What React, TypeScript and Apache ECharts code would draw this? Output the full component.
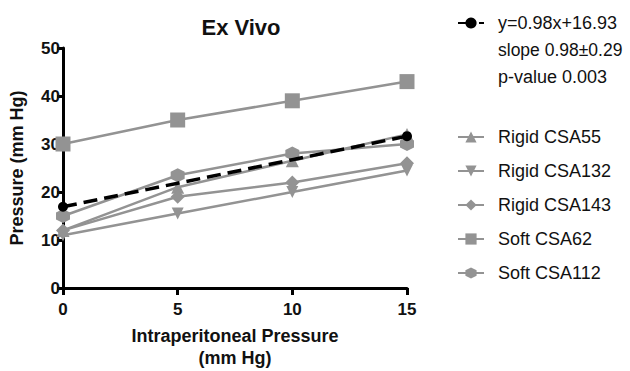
import React, { useEffect, useRef } from "react";
import * as echarts from "echarts";

const xValues = [0, 5, 10, 15];
const rigidCSA55 = [12, 21, 26.5, 32];
const rigidCSA132 = [11, 15.5, 20, 24.5];
const rigidCSA143 = [12, 19, 22, 26];
const softCSA62 = [30, 35, 39, 43];
const softCSA112 = [15, 23.5, 28, 30];
const fitLine = [16.93, 21.83, 26.73, 31.63];
const fitName = "y=0.98x+16.93";
const fitNotes = ["slope 0.98±0.29", "p-value 0.003"];
const xTitleLines = ["Intraperitoneal Pressure", "(mm Hg)"];
const yTicks = [0, 10, 20, 30, 40, 50];

const GRAY = "#939393";
const FONT = "Liberation Sans, Arial, sans-serif";
const HEX = "path://M0,-1L0.866,-0.5L0.866,0.5L0,1L-0.866,0.5L-0.866,-0.5Z";

export default function App() {
  const ref = useRef<HTMLDivElement>(null);
  useEffect(() => {
    const chart = echarts.init(ref.current!, null, { renderer: "svg" });
    const pts = (arr: number[]) => arr.map((v, i) => [xValues[i], v]);
    const gray = (name: string, data: number[], symbol: string, size: number) => ({
      name,
      type: "line",
      data: pts(data),
      symbol,
      symbolSize: size,
      lineStyle: { color: GRAY, width: 2.5 },
      itemStyle: { color: GRAY },
      z: 2,
    });
    const legendText = { fontFamily: FONT, fontSize: 18, color: "#111", padding: [0, 0, 0, 9] };
    chart.setOption({
      animation: false,
      title: {
        text: "Ex Vivo",
        left: 236,
        textAlign: "center",
        top: 11,
        textStyle: { fontFamily: FONT, fontWeight: "bold", fontSize: 22, color: "#111" },
      },
      grid: { left: 63, right: 223, top: 48, bottom: 83, containLabel: false, outerBoundsMode: "none" },
      xAxis: {
        type: "value",
        min: 0,
        max: 15,
        interval: 5,
        axisLine: { lineStyle: { color: "#000", width: 3 } },
        axisTick: { length: 7, lineStyle: { color: "#000", width: 3 } },
        axisLabel: { fontFamily: FONT, fontWeight: "bold", fontSize: 17, color: "#111", margin: 13 },
        splitLine: { show: false },
      },
      yAxis: {
        type: "value",
        min: yTicks[0],
        max: yTicks[yTicks.length - 1],
        interval: 10,
        name: "Pressure (mm Hg)",
        nameLocation: "middle",
        nameGap: 37,
        nameTextStyle: { fontFamily: FONT, fontWeight: "bold", fontSize: 18, color: "#111" },
        axisLine: { show: true, lineStyle: { color: "#000", width: 3 } },
        axisTick: { show: true, length: 6, lineStyle: { color: "#000", width: 3 } },
        axisLabel: { fontFamily: FONT, fontWeight: "bold", fontSize: 17, color: "#111", margin: 3 },
        splitLine: { show: false },
      },
      legend: [
        {
          data: [fitName],
          orient: "vertical",
          left: 457,
          top: 14,
          padding: 0,
          itemWidth: 26,
          itemHeight: 14,
          textStyle: legendText,
        },
        {
          data: ["Rigid CSA55", "Rigid CSA132", "Rigid CSA143", "Soft CSA62", "Soft CSA112"],
          orient: "vertical",
          left: 457,
          top: 128,
          padding: 0,
          itemGap: 16,
          itemWidth: 26,
          itemHeight: 14,
          textStyle: legendText,
        },
      ],
      graphic: [
        ...fitNotes.map((t, i) => ({
          type: "text",
          left: 498,
          top: 41 + i * 27,
          style: { text: t, fontFamily: FONT, fontSize: i === 0 ? 17.5 : 18, fill: "#111" },
        })),
        ...xTitleLines.map((t, i) => ({
          type: "text",
          x: 235,
          y: 336 + i * 22,
          style: {
            text: t,
            fontFamily: FONT,
            fontWeight: "bold",
            fontSize: 18,
            fill: "#111",
            align: "center",
            verticalAlign: "middle",
          },
        })),
      ],
      series: [
        gray("Rigid CSA55", rigidCSA55, "triangle", 13),
        gray("Rigid CSA132", rigidCSA132, "path://M-1,-1L1,-1L0,1Z", 12),
        gray("Rigid CSA143", rigidCSA143, "diamond", 14),
        gray("Soft CSA62", softCSA62, "rect", 15),
        gray("Soft CSA112", softCSA112, HEX, 14),
        {
          name: fitName,
          type: "line",
          data: pts(fitLine).map((p, i) => ({
            value: p,
            symbol: i === 0 || i === fitLine.length - 1 ? "circle" : "none",
          })),
          symbol: "circle",
          symbolSize: 10,
          lineStyle: { color: "#000", width: 3.5, type: [14, 7] },
          itemStyle: { color: "#000" },
          z: 5,
        },
      ],
    });
    return () => chart.dispose();
  }, []);
  return <div ref={ref} style={{ position: "absolute", left: 0, top: 0, width: 630, height: 371 }} />;
}
